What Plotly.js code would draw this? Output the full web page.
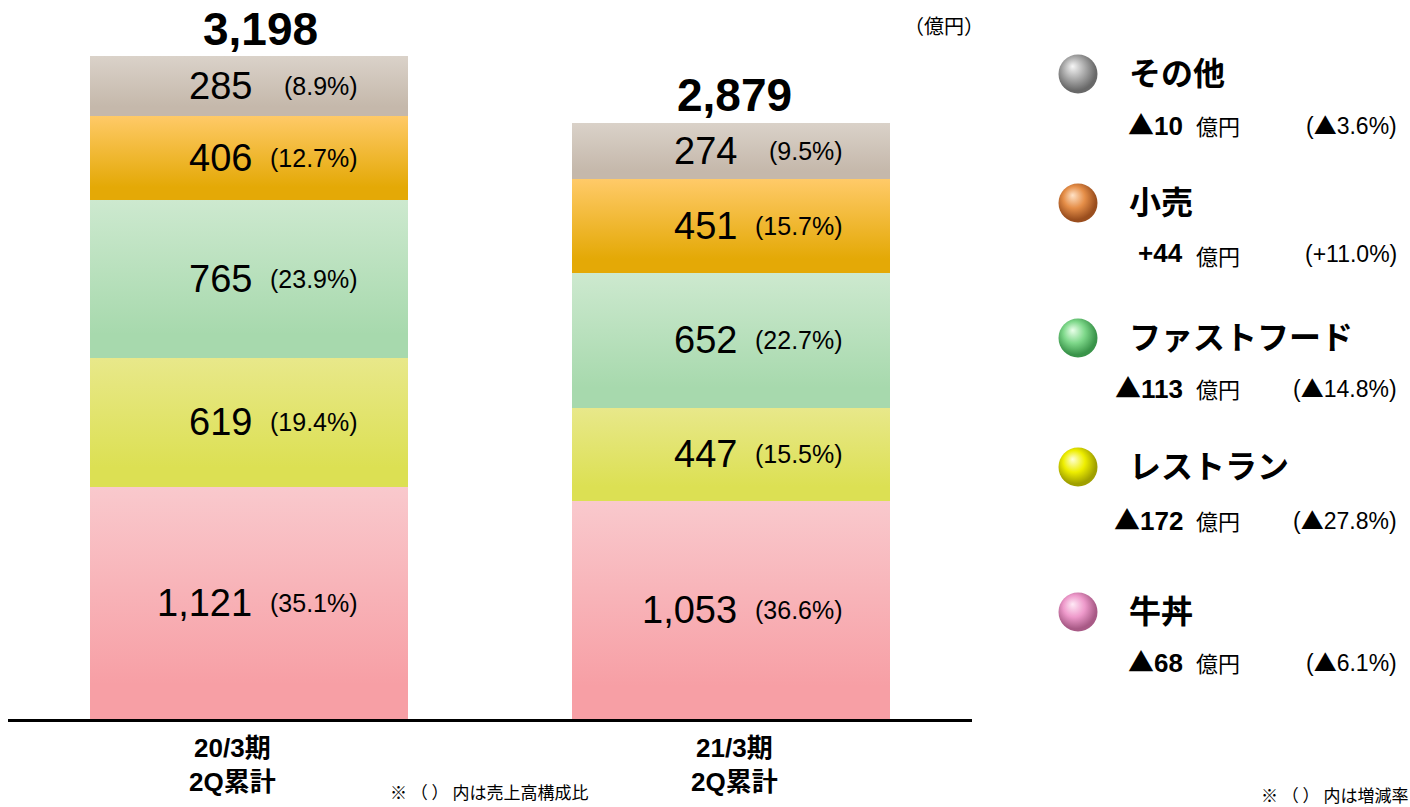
<!DOCTYPE html>
<html>
<head>
<meta charset="utf-8">
<script src="https://cdn.plot.ly/plotly-3.0.1.min.js"></script>
<style>
html,body{margin:0;padding:0;background:#fff;}
#chart{width:1410px;height:807px;}
</style>
</head>
<body>
<div id="chart"></div>
<script>
// ---------- DATA ----------
const categories = ['20/3期<br>2Q累計', '21/3期<br>2Q累計'];
const segments = ['牛丼', 'レストラン', 'ファストフード', '小売', 'その他']; // bottom -> top
const gyudon     = [1121, 1053];
const restaurant = [619, 447];
const fastfood   = [765, 652];
const retail     = [406, 451];
const other      = [285, 274];
const gyudonShare     = ['35.1%', '36.6%'];
const restaurantShare = ['19.4%', '15.5%'];
const fastfoodShare   = ['23.9%', '22.7%'];
const retailShare     = ['12.7%', '15.7%'];
const otherShare      = ['8.9%', '9.5%'];
const totals = [3198, 2879];
const changeAmount = ['▲68', '▲172', '▲113', '+44', '▲10'];       // same order as segments
const changeRate   = ['▲6.1%', '▲27.8%', '▲14.8%', '+11.0%', '▲3.6%'];

// ---------- STYLE ----------
const seriesValues = [gyudon, restaurant, fastfood, retail, other];
const seriesShares = [gyudonShare, restaurantShare, fastfoodShare, retailShare, otherShare];
const gradTop    = ['#F9C9CD', '#E8E88A', '#CDE9CF', '#FFCA68', '#DAD2C9'];
const gradBottom = ['#F79FA5', '#DCE053', '#A7D9AD', '#E4A906', '#C5B8AB'];
const sphereHi   = ['#FFEAF6', '#FFFFD8', '#EAFFEA', '#FFE2C6', '#F6F6F6'];
const sphereMid  = ['#EE9ACB', '#EEEE00', '#7ED88A', '#E58E48', '#ABABAB'];
const sphereEdge = ['#A85A86', '#A0A000', '#3A944A', '#9A4E1E', '#686868'];
const legendNameY = [612, 467, 338, 203, 74];   // pixel rows of legend entries
const legendSubY  = [660, 518, 386, 253, 123];
const FONT = 'Liberation Sans, Arial, Noto Sans CJK JP, sans-serif';
const JFONT = 'Noto Sans CJK JP, sans-serif';

const ML = 8, MT = 10, MB = 88, W = 1410, H = 807;
const plotW = W - ML, plotH = H - MT - MB;
const px = x => (x - ML) / plotW;
const py = y => (H - MB - y) / plotH;
const tri = s => s.replace(/▲/g, '<span style="font-family:Noto Sans CJK JP">▲</span>');

const traces = segments.map((name, i) => ({
  type: 'bar', name: name, x: categories, y: seriesValues[i],
  width: 0.66, marker: {color: gradBottom[i], line: {width: 0}},
  hoverinfo: 'skip', showlegend: false
}));

traces.push({
  type: 'scatter', mode: 'markers', xaxis: 'x2', yaxis: 'y2',
  x: segments.map(() => 1078), y: legendNameY,
  marker: {size: 39, color: sphereMid, line: {width: 0}},
  hoverinfo: 'skip', showlegend: false
});

const annotations = [];
const fmt = v => v.toLocaleString('en-US');
const valShift = [5, 8], pctShift = [111, 114];
categories.forEach((c, j) => {
  let cum = 0;
  segments.forEach((s, i) => {
    const v = seriesValues[i][j];
    const mid = cum + v / 2;
    cum += v;
    annotations.push({x: c, y: mid, xref: 'x', yref: 'y', text: fmt(v), showarrow: false,
      xanchor: 'right', yanchor: 'middle', xshift: valShift[j],
      font: {family: FONT, size: 38, color: '#000'}});
    annotations.push({x: c, y: mid, xref: 'x', yref: 'y', text: '(' + seriesShares[i][j] + ')', showarrow: false,
      xanchor: 'right', yanchor: 'middle', xshift: pctShift[j],
      font: {family: FONT, size: 25, color: '#000'}});
  });
  annotations.push({x: c, y: totals[j], xref: 'x', yref: 'y', text: fmt(totals[j]), showarrow: false,
    xanchor: 'center', yanchor: 'middle', yshift: 27, xshift: [11, 3][j],
    font: {family: FONT, size: 46, color: '#000', weight: 'bold'}});
  annotations.push({x: c, y: py(765), xref: 'x', yref: 'paper', text: c, showarrow: false,
    xanchor: 'center', yanchor: 'middle', xshift: [-17, 3][j],
    font: {family: FONT, size: 26, color: '#000', weight: 'bold'}});
});

segments.forEach((s, i) => {
  annotations.push({x: 1127, y: legendNameY[i], xref: 'x2', yref: 'y2', text: s, showarrow: false,
    xanchor: 'left', yanchor: 'middle', font: {family: FONT, size: 32, color: '#000', weight: 'bold'}});
  annotations.push({x: 1185, y: legendSubY[i], xref: 'x2', yref: 'y2', text: tri(changeAmount[i]), showarrow: false,
    xanchor: 'right', yanchor: 'middle', font: {family: FONT, size: 26, color: '#000', weight: 'bold'}});
  annotations.push({x: 1194, y: legendSubY[i] + 2, xref: 'x2', yref: 'y2', text: '億円', showarrow: false,
    xanchor: 'left', yanchor: 'middle', font: {family: JFONT, size: 22, color: '#000'}});
  annotations.push({x: 1399, y: legendSubY[i] + 1, xref: 'x2', yref: 'y2', text: '(' + tri(changeRate[i]) + ')', showarrow: false,
    xanchor: 'right', yanchor: 'middle', font: {family: FONT, size: 23, color: '#000'}});
});

annotations.push({x: px(944), y: py(26), xref: 'paper', yref: 'paper', text: '（億円）', showarrow: false,
  xanchor: 'center', yanchor: 'middle', font: {family: JFONT, size: 20, color: '#000'}});
annotations.push({x: px(388), y: py(791), xref: 'paper', yref: 'paper', text: '※ （ ） 内は売上高構成比', showarrow: false,
  xanchor: 'left', yanchor: 'middle', font: {family: JFONT, size: 17, color: '#000'}});
annotations.push({x: px(1410), y: py(794), xref: 'paper', yref: 'paper', text: '※ （ ） 内は増減率', showarrow: false,
  xanchor: 'right', yanchor: 'middle', font: {family: JFONT, size: 17, color: '#000'}});

const x2Start = 0.70;
const layout = {
  width: W, height: H, margin: {l: ML, r: 0, t: MT, b: MB, pad: 0},
  paper_bgcolor: '#fff', plot_bgcolor: 'rgba(0,0,0,0)',
  barmode: 'stack', showlegend: false,
  font: {family: FONT, color: '#000'},
  xaxis: {type: 'category', domain: [0, (972 - ML) / plotW], range: [-0.5, 1.5],
    showticklabels: false, ticks: '', showgrid: false, zeroline: false,
    showline: true, linecolor: '#000', linewidth: 3, fixedrange: true},
  yaxis: {range: [0, plotH / (663 / 3198)], visible: false, showgrid: false, zeroline: false, fixedrange: true},
  xaxis2: {domain: [x2Start, 1], anchor: 'y2', range: [ML + x2Start * plotW, W], visible: false, fixedrange: true},
  yaxis2: {domain: [0, 1], anchor: 'x2', range: [H - MB, MT], visible: false, fixedrange: true},
  annotations: annotations
};

Plotly.newPlot('chart', traces, layout, {displayModeBar: false, staticPlot: true}).then(gd => {
  const svg = gd.querySelector('svg.main-svg');
  const NS = 'http://www.w3.org/2000/svg';
  let defs = svg.querySelector('defs');
  if (!defs) { defs = document.createElementNS(NS, 'defs'); svg.insertBefore(defs, svg.firstChild); }
  const stop = (g, off, col) => {
    const s = document.createElementNS(NS, 'stop');
    s.setAttribute('offset', off); s.setAttribute('stop-color', col); g.appendChild(s);
  };
  segments.forEach((s, i) => {
    const g = document.createElementNS(NS, 'linearGradient');
    g.setAttribute('id', 'barGrad' + i);
    g.setAttribute('x1', '0'); g.setAttribute('y1', '0'); g.setAttribute('x2', '0'); g.setAttribute('y2', '1');
    stop(g, '0', gradTop[i]); stop(g, '0.85', gradBottom[i]); stop(g, '1', gradBottom[i]);
    defs.appendChild(g);
    const r = document.createElementNS(NS, 'radialGradient');
    r.setAttribute('id', 'sphGrad' + i);
    r.setAttribute('cx', '0.45'); r.setAttribute('cy', '0.42'); r.setAttribute('r', '0.62');
    r.setAttribute('fx', '0.36'); r.setAttribute('fy', '0.3');
    stop(r, '0', sphereHi[i]); stop(r, '0.45', sphereMid[i]); stop(r, '0.85', sphereEdge[i]); stop(r, '1', sphereEdge[i]);
    defs.appendChild(r);
  });
  gd.querySelectorAll('.barlayer .trace').forEach((tr, i) => {
    tr.querySelectorAll('.point path').forEach(p => { p.style.fill = 'url(#barGrad' + i + ')'; });
  });
  gd.querySelectorAll('.scatterlayer .trace path.point').forEach((p, i) => {
    p.style.fill = 'url(#sphGrad' + i + ')';
  });
});
</script>
</body>
</html>
